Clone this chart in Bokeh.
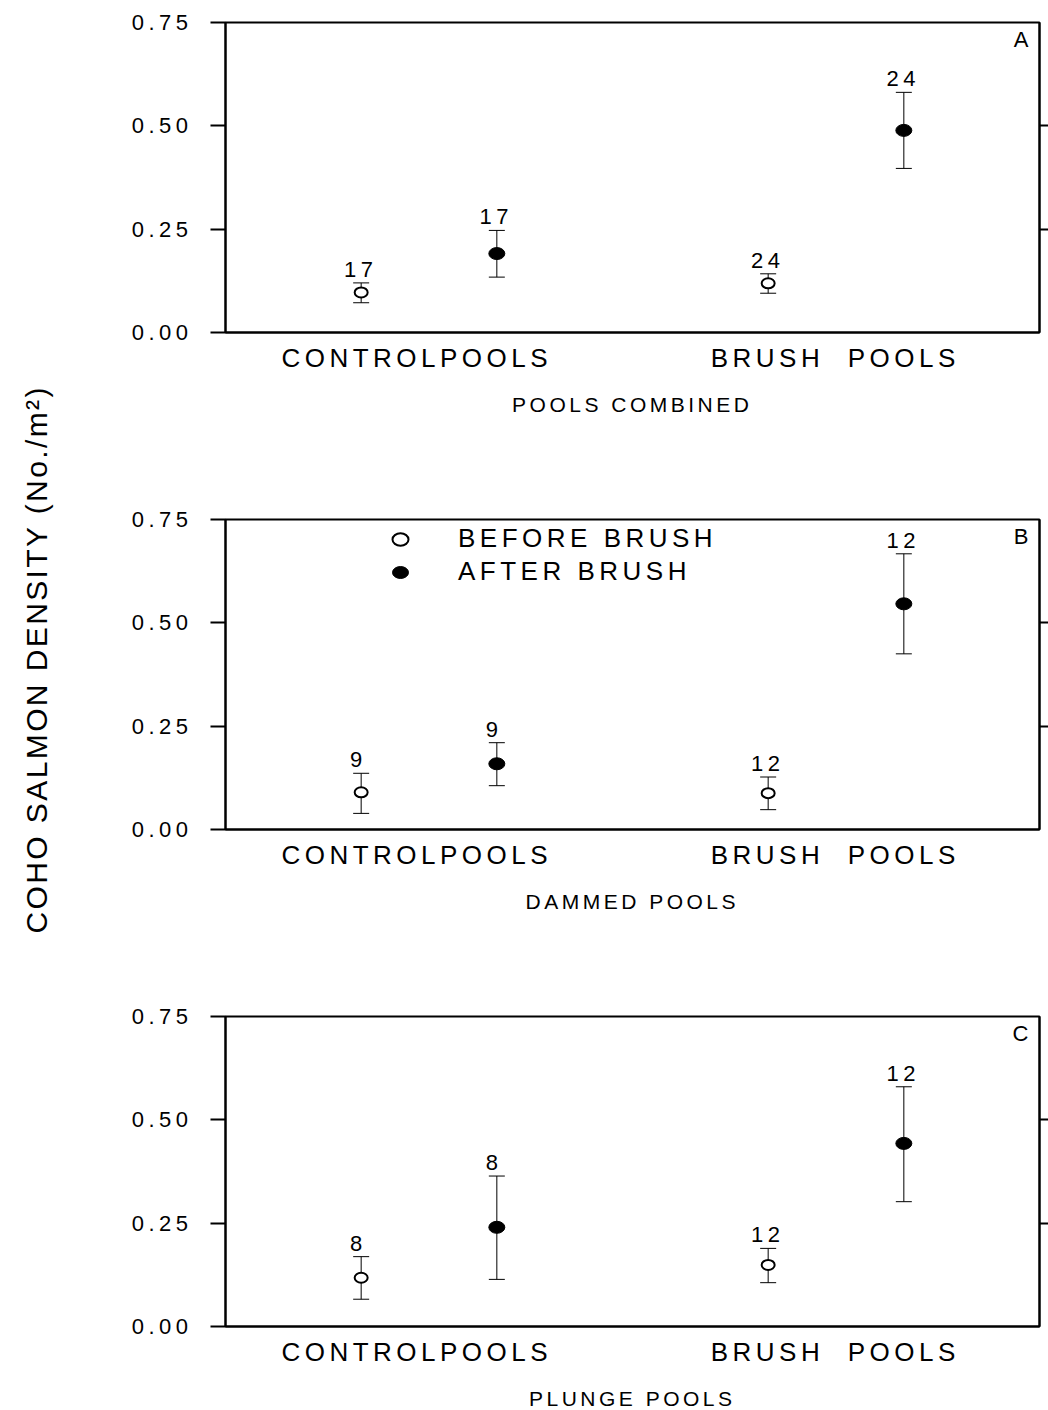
import numpy as np
from bokeh.plotting import figure
from bokeh.models import (ColumnDataSource, Range1d, LinearAxis, FixedTicker, NumeralTickFormatter,
                          CustomJSTickFormatter, Whisker, TeeHead, Legend, LegendItem, Label,
                          InlineStyleSheet)
from bokeh.layouts import column, row
from bokeh.core.properties import value
from bokeh.embed import file_html
from bokeh.resources import INLINE

# ---------------- data ----------------
groups = ["CONTROLPOOLS", "BRUSH \u00a0POOLS"]
series = ["BEFORE BRUSH", "AFTER BRUSH"]
panel_letters = ["A", "B", "C"]
panel_titles = ["POOLS COMBINED", "DAMMED POOLS", "PLUNGE POOLS"]
y_title = "COHO SALMON DENSITY (No./m\u00b2)"
y_ticks = [0.0, 0.25, 0.50, 0.75]

# per panel: [control, brush]
before_mean = [[0.097, 0.119], [0.090, 0.088], [0.118, 0.149]]
before_low = [[0.072, 0.095], [0.039, 0.048], [0.066, 0.106]]
before_high = [[0.120, 0.142], [0.136, 0.127], [0.169, 0.189]]
after_mean = [[0.191, 0.489], [0.159, 0.546], [0.240, 0.443]]
after_low = [[0.134, 0.397], [0.106, 0.425], [0.114, 0.302]]
after_high = [[0.247, 0.581], [0.210, 0.667], [0.364, 0.580]]
sample_n = [[17, 24], [9, 12], [8, 12]]

# ---------------- layout / style ----------------
FONT = "Liberation Sans"
LS = 4.5                       # letter spacing, px
LS_SUB = 3.5
FRAME_W, FRAME_H = 814, 310
X_RANGE = (0, 6)
before_x = [1, 4]
after_x = [2, 5]
px_per_x = FRAME_W / (X_RANGE[1] - X_RANGE[0])
YT_W = 70
PAGE_W, PAGE_H = 1048, 1410
BORDER_L, BORDER_R = 225 - YT_W, 9
PANEL_BOTTOM = 56
SUB_H = [109, 109, 28]

css = InlineStyleSheet(css=":host { letter-spacing: %gpx; }" % LS)
css_sub = InlineStyleSheet(css=":host { letter-spacing: %gpx; }" % LS_SUB)
css_title = InlineStyleSheet(css=":host { letter-spacing: 2.4px; }")

# group label tick positions: group centre, nudged (px), compensated for letter spacing
group_nudge_px = [-14.5, -3.0]
group_tick = [((bx + ax) / 2) + (nd - (len(g) - 1) * LS / 2) / px_per_x
              for bx, ax, g, nd in zip(before_x, after_x, groups, group_nudge_px)]


def make_panel(i):
    p = figure(frame_width=FRAME_W, frame_height=FRAME_H,
               x_range=Range1d(*X_RANGE), y_range=Range1d(0, 0.75),
               output_backend="svg", toolbar_location=None,
               min_border_left=BORDER_L, min_border_right=BORDER_R, min_border_top=22,
               min_border_bottom=PANEL_BOTTOM, stylesheets=[css])
    p.grid.visible = False
    p.outline_line_color = "black"
    p.outline_line_width = 2
    p.background_fill_color = "white"
    p.border_fill_color = "white"

    yax = p.yaxis[0]
    yax.ticker = FixedTicker(ticks=y_ticks)
    yax.formatter = NumeralTickFormatter(format="0.00")
    yax.axis_line_width = 2
    yax.major_tick_line_width = 2
    yax.major_tick_out = 15
    yax.major_tick_in = 0
    yax.minor_tick_line_color = None
    yax.major_label_text_font = FONT
    yax.major_label_text_font_size = "22px"
    yax.major_label_text_color = "black"
    yax.major_label_standoff = 36

    xax = p.xaxis[0]
    xax.ticker = FixedTicker(ticks=group_tick)
    xax.major_label_overrides = {t: g for t, g in zip(group_tick, groups)}
    xax.axis_line_width = 2
    xax.major_tick_line_color = None
    xax.minor_tick_line_color = None
    xax.major_tick_out = 0
    xax.major_tick_in = 0
    xax.major_label_standoff = 10
    xax.major_label_text_font = FONT
    xax.major_label_text_font_size = "26px"
    xax.major_label_text_color = "black"

    rax = LinearAxis(ticker=FixedTicker(ticks=[0.25, 0.5]),
                     formatter=CustomJSTickFormatter(code="return ''"),
                     major_label_text_font_size="0px", major_label_standoff=0,
                     axis_line_width=2, major_tick_out=9, major_tick_in=0,
                     major_tick_line_width=2, minor_tick_line_color=None)
    p.add_layout(rax, "right")

    src_b = ColumnDataSource(dict(x=before_x, y=before_mean[i], lo=before_low[i],
                                  hi=before_high[i], n=[str(v) for v in sample_n[i]]))
    src_a = ColumnDataSource(dict(x=after_x, y=after_mean[i], lo=after_low[i],
                                  hi=after_high[i], n=[str(v) for v in sample_n[i]]))
    for src in (src_b, src_a):
        p.add_layout(Whisker(source=src, base="x", upper="hi", lower="lo",
                             dimension="height", line_width=1, line_color="black",
                             upper_head=TeeHead(size=16, line_width=1, line_color="black"),
                             lower_head=TeeHead(size=16, line_width=1, line_color="black")))
        p.text(x="x", y="hi", text="n", source=src, text_align="center",
               text_baseline="bottom", y_offset=-6, x_offset=-5,
               text_font=value(FONT), text_font_size="22px", text_color="black")

    r_b = p.ellipse(x="x", y="y", width=13, height=10, width_units="screen",
                    height_units="screen", source=src_b, fill_color="white",
                    line_color="black", line_width=2)
    r_a = p.ellipse(x="x", y="y", width=16, height=12, width_units="screen",
                    height_units="screen", source=src_a, fill_color="black",
                    line_color="black", line_width=1)

    p.add_layout(Label(x=X_RANGE[1], y=0.75, text=panel_letters[i], x_offset=-11,
                       y_offset=-4, text_align="right", text_baseline="top",
                       text_font=FONT, text_font_size="22px", text_color="black"))

    if i == 1:
        leg = Legend(items=[LegendItem(label=series[0], renderers=[r_b]),
                            LegendItem(label=series[1], renderers=[r_a])],
                     location=(165, 242), border_line_color=None,
                     background_fill_alpha=0, padding=0, margin=0, spacing=2,
                     glyph_width=20, glyph_height=30, label_height=30,
                     label_standoff=48, label_text_font=FONT,
                     label_text_font_size="26px", label_text_color="black")
        p.add_layout(leg)
    return p


def make_subtitle(i):
    h = SUB_H[i]
    s = figure(frame_width=FRAME_W, frame_height=h, x_range=Range1d(*X_RANGE),
               y_range=Range1d(0, h), min_border_left=BORDER_L, min_border_right=BORDER_R,
               min_border_top=0, min_border_bottom=0, x_axis_type=None, y_axis_type=None,
               toolbar_location=None, output_backend="svg", outline_line_color=None,
               stylesheets=[css_sub])
    s.grid.visible = False
    title = panel_titles[i]
    s.text(x=[sum(X_RANGE) / 2], y=[h - 15.5], text=[title], text_align="center",
           text_baseline="middle", x_offset=-2 - (len(title) - 1) * LS_SUB / 2,
           text_font=value(FONT), text_font_size="21px", text_color="black")
    return s


panels = []
for i in range(3):
    panels.append(make_panel(i))
    panels.append(make_subtitle(i))

yt = figure(frame_width=YT_W, frame_height=PAGE_H, x_range=Range1d(0, YT_W),
            y_range=Range1d(0, PAGE_H), min_border=0, x_axis_type=None, y_axis_type=None,
            toolbar_location=None, output_backend="svg", outline_line_color=None,
            stylesheets=[css_title])
yt.grid.visible = False
yt.text(x=[36], y=[PAGE_H - 933], text=[y_title], angle=np.pi / 2, text_align="left",
        text_baseline="alphabetic", text_font=value(FONT), text_font_size="30px",
        text_color="black")

layout = row(yt, column(*panels))
open("out.html", "w").write(file_html(layout, INLINE))
